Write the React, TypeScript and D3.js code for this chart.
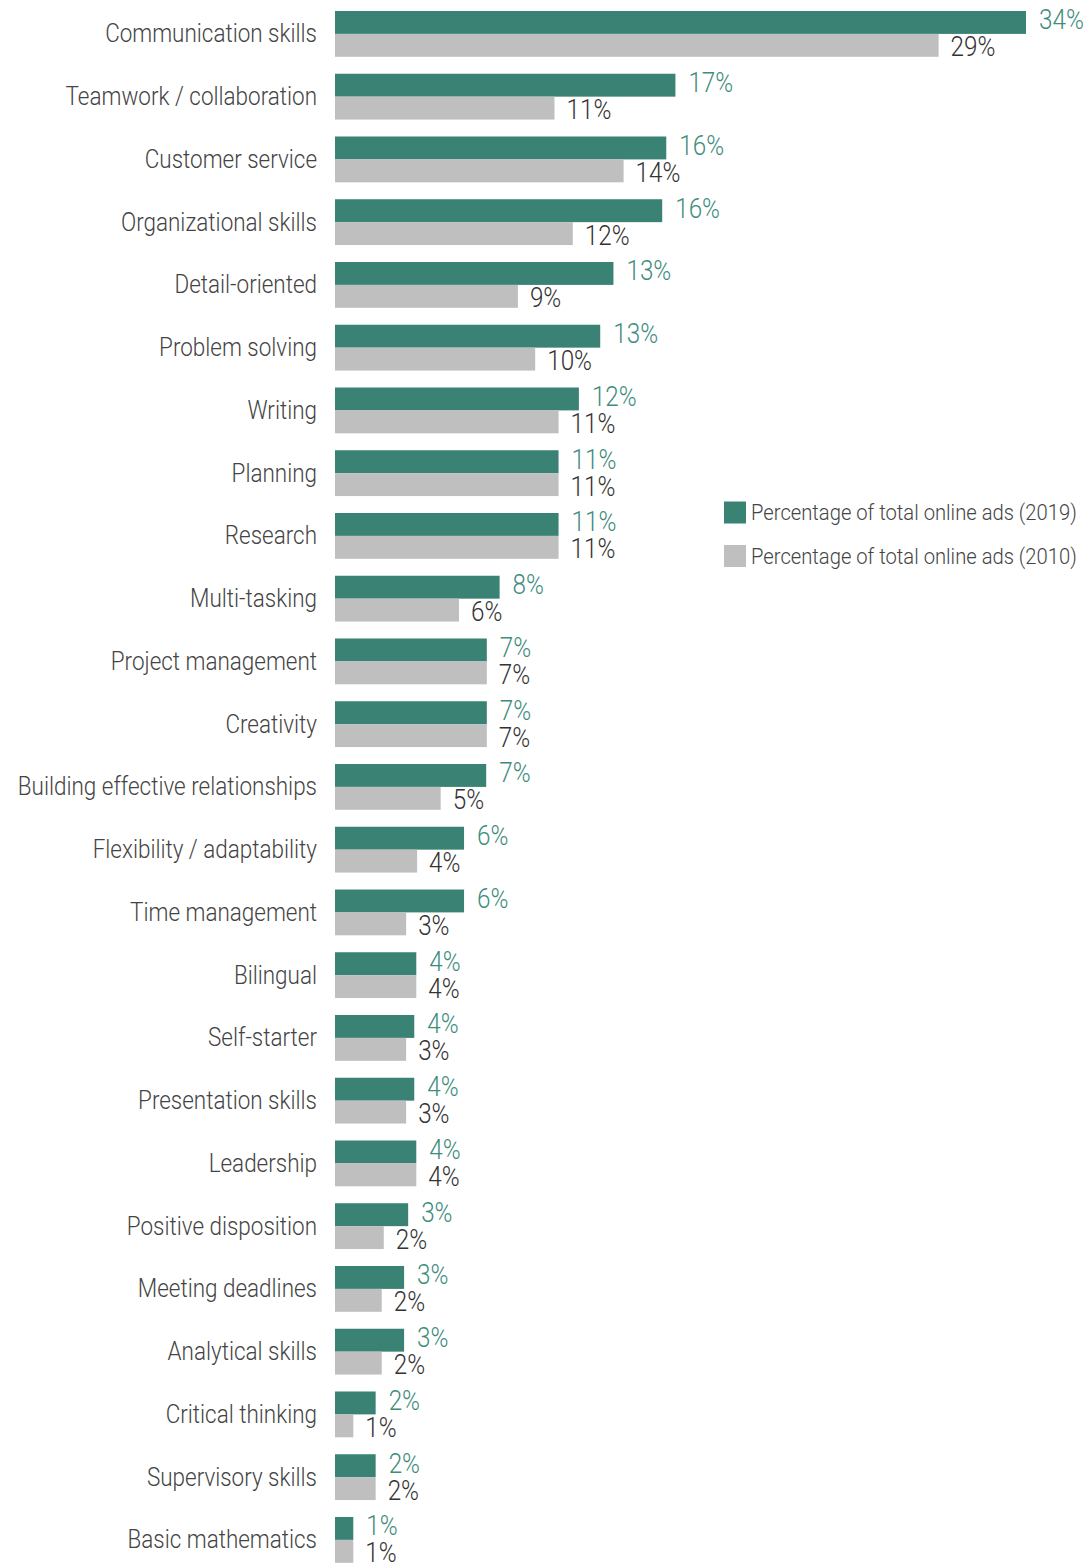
import { useEffect, useRef } from "react";
import * as d3 from "d3";

// ---------------------------------------------------------------------------
// Data (bar lengths, labels as printed)
// ---------------------------------------------------------------------------

const SKILLS = [
  "Communication skills",
  "Teamwork / collaboration",
  "Customer service",
  "Organizational skills",
  "Detail-oriented",
  "Problem solving",
  "Writing",
  "Planning",
  "Research",
  "Multi-tasking",
  "Project management",
  "Creativity",
  "Building effective relationships",
  "Flexibility / adaptability",
  "Time management",
  "Bilingual",
  "Self-starter",
  "Presentation skills",
  "Leadership",
  "Positive disposition",
  "Meeting deadlines",
  "Analytical skills",
  "Critical thinking",
  "Supervisory skills",
  "Basic mathematics",
];

const SHARE_2019 = [
  34.0, 16.75, 16.3, 16.1, 13.7, 13.05, 12.0, 11.0, 11.0, 8.1, 7.47, 7.47, 7.44,
  6.35, 6.35, 4.0, 3.9, 3.9, 4.0, 3.6, 3.4, 3.4, 2.0, 2.0, 0.9,
];

const SHARE_2010 = [
  29.7, 10.8, 14.2, 11.7, 9.0, 9.85, 11.0, 11.0, 11.0, 6.1, 7.47, 7.47, 5.2,
  4.04, 3.5, 4.0, 3.5, 3.5, 4.0, 2.4, 2.3, 2.3, 0.9, 2.0, 0.9,
];

const LABELS_2019 = [
  "34%", "17%", "16%", "16%", "13%", "13%", "12%", "11%", "11%", "8%", "7%",
  "7%", "7%", "6%", "6%", "4%", "4%", "4%", "4%", "3%", "3%", "3%", "2%", "2%",
  "1%",
];

const LABELS_2010 = [
  "29%", "11%", "14%", "12%", "9%", "10%", "11%", "11%", "11%", "6%", "7%",
  "7%", "5%", "4%", "3%", "4%", "3%", "3%", "4%", "2%", "2%", "2%", "1%", "2%",
  "1%",
];

const SERIES = ["2019", "2010"];
const LEGEND_LABELS = [
  "Percentage of total online ads (2019)",
  "Percentage of total online ads (2010)",
];

// ---------------------------------------------------------------------------
// Style
// ---------------------------------------------------------------------------

const WIDTH = 1092;
const HEIGHT = 1564;
const GREEN = "#3a8274";
const GREEN_TEXT = "#408c7c";
const GREY = "#bfbfbf";
const DARK_TEXT = "#333333";
const LABEL_TEXT = "#444444";
const FONT = "Roboto, 'Liberation Sans', sans-serif";
const WEIGHT = 300;
const LABEL_SIZE = 25;
const VALUE_SIZE = 27;
const LEGEND_SIZE = 22.5;
// target width of the first category label, used to fake a condensed face
const REF_LABEL_WIDTH = 212;

export default function App() {
  const svgRef = useRef<SVGSVGElement>(null);

  useEffect(() => {
    document.body.style.margin = "0";
    const svg = d3.select(svgRef.current);
    svg.selectAll("*").remove();

    // measure once to get the horizontal squeeze factor
    const probe = svg
      .append("text")
      .attr("font-family", FONT)
      .attr("font-weight", WEIGHT)
      .attr("font-size", LABEL_SIZE)
      .text(SKILLS[0]);
    const w = (probe.node() as SVGTextElement).getComputedTextLength();
    probe.remove();
    const condense = w > 0 ? REF_LABEL_WIDTH / w : 0.85;

    const x = d3.scaleLinear().domain([0, 34]).range([335, 1026]);
    const y = d3
      .scaleBand<string>()
      .domain(SKILLS)
      .range([11, 1562.8])
      .paddingInner(0.27)
      .paddingOuter(0);
    const sub = d3
      .scaleBand<string>()
      .domain(SERIES)
      .range([0, y.bandwidth()])
      .padding(0);

    const g = svg.append("g");

    const addText = (
      parent: d3.Selection<SVGGElement, unknown, null, undefined>,
      tx: number,
      ty: number,
      txt: string,
      anchor: string,
      fill: string,
      size: number
    ) => {
      parent
        .append("g")
        .attr("transform", `translate(${tx},${ty}) scale(${condense},1)`)
        .append("text")
        .attr("text-anchor", anchor)
        .attr("dominant-baseline", "central")
        .attr("fill", fill)
        .attr("font-family", FONT)
        .attr("font-weight", WEIGHT)
        .attr("font-size", size)
        .text(txt);
    };

    SKILLS.forEach((skill, i) => {
      const y0 = y(skill)!;
      const yG = y0 + sub("2019")!;
      const yS = y0 + sub("2010")!;
      const bh = sub.bandwidth();

      g.append("rect")
        .attr("x", x(0))
        .attr("y", yG)
        .attr("width", x(SHARE_2019[i]) - x(0))
        .attr("height", bh)
        .attr("fill", GREEN);

      g.append("rect")
        .attr("x", x(0))
        .attr("y", yS)
        .attr("width", x(SHARE_2010[i]) - x(0))
        .attr("height", bh)
        .attr("fill", GREY);

      addText(g, 317, y0 + y.bandwidth() / 2, skill, "end", LABEL_TEXT, LABEL_SIZE);

      addText(g, x(SHARE_2019[i]) + 13, yG + bh / 2 - 2.5, LABELS_2019[i], "start", GREEN_TEXT, VALUE_SIZE);
      addText(g, x(SHARE_2010[i]) + 12, yS + bh / 2 + 1.5, LABELS_2010[i], "start", DARK_TEXT, VALUE_SIZE);
    });

    // ---- Legend ----
    const legend = g.append("g").attr("transform", "translate(724, 501.5)");
    LEGEND_LABELS.forEach((lab, i) => {
      legend
        .append("rect")
        .attr("x", 0)
        .attr("y", i * 43.5)
        .attr("width", 22)
        .attr("height", 22)
        .attr("fill", i === 0 ? GREEN : GREY);
      addText(legend, 27, i * 43.5 + 11, lab, "start", LABEL_TEXT, LEGEND_SIZE);
    });
  }, []);

  return (
    <svg
      ref={svgRef}
      width={WIDTH}
      height={HEIGHT}
      style={{ display: "block", background: "#ffffff" }}
    />
  );
}
